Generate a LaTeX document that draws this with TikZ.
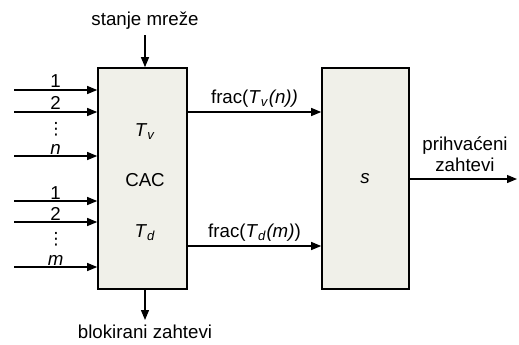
\documentclass[tikz,border=0pt]{standalone}
\usepackage{fontspec}
\setmainfont{Liberation Sans}
\newfontfamily\symfont{DejaVu Sans}
\usepackage{tikz}
\usetikzlibrary{arrows.meta, positioning}
\definecolor{boxfill}{RGB}{240, 240, 233}

\begin{document}
\begin{tikzpicture}[
    x=0.025cm, y=-0.025cm,
    >={Triangle[length=2.5mm, width=2mm]},
    block/.style={rectangle, draw=black, line width=0.4mm, fill=boxfill, minimum height=5.525cm, inner sep=0pt},
    arr/.style={->, line width=0.3mm},
    lbl/.style={font=\fontsize{13.3}{16}\selectfont, inner sep=1pt},
    dots/.style={font=\fontsize{12}{14}\symfont, inner sep=0pt}
  ]
  \useasboundingbox (0,0) rectangle (519,344);

  % Blocks
  \node[block, minimum width=2.225cm] (cac) at (142.5,178.5) {};
  \node[block, minimum width=2.175cm] (sbox) at (365.5,178.5) {};

  % Block texts
  \node[lbl] (tv) at (145,132) {\textit{T}\textsubscript{\textit{v}}};
  \node[lbl] (cactxt) at (145,180) {CAC};
  \node[lbl] (td) at (145,233) {\textit{T}\textsubscript{\textit{d}}};
  \node[lbl] (stxt) at (365,179) {\textit{s}};

  % Inputs
  \foreach \i/\y/\lab in {1/90/1, 2/112/2, 3/156/{\textit{n}}, 4/201/1, 5/222/2, 6/267/{\textit{m}}} {
    \coordinate (in\i) at (14,\y);
    \draw[arr] (in\i) -- (in\i -| cac.west) node[lbl, midway, above] {\lab};
  }
  \node[dots] (dots1) at (56,129) {⋮};
  \node[dots] (dots2) at (56,239) {⋮};

  % Network state and blocked requests
  \node[lbl] (stanje) at (145,21) {stanje mreže};
  \draw[arr] (stanje.south |- 0,35) -- (stanje.south |- cac.north);
  \node[lbl] (blok) at (145,332) {blokirani zahtevi};
  \draw[arr] (blok.north |- cac.south) -- (blok.north |- 0,320);

  % Between blocks
  \coordinate (fv) at (cac.east |- 0,112);
  \coordinate (fd) at (cac.east |- 0,246);
  \draw[arr] (fv) -- (fv -| sbox.west) node[lbl, midway, above=2pt] {frac(\textit{T}\textsubscript{\textit{v}}\textit{(n))}};
  \draw[arr] (fd) -- (fd -| sbox.west) node[lbl, midway, above=2pt] {frac(\textit{T}\textsubscript{\textit{d}}\textit{(m)})};

  % Output
  \coordinate (out) at (517,179);
  \draw[arr] (sbox.east |- out) -- (out);
  \node[lbl, align=center] (prih) at (465,154) {prihvaćeni\\[-1pt]zahtevi};

\end{tikzpicture}
\end{document}
